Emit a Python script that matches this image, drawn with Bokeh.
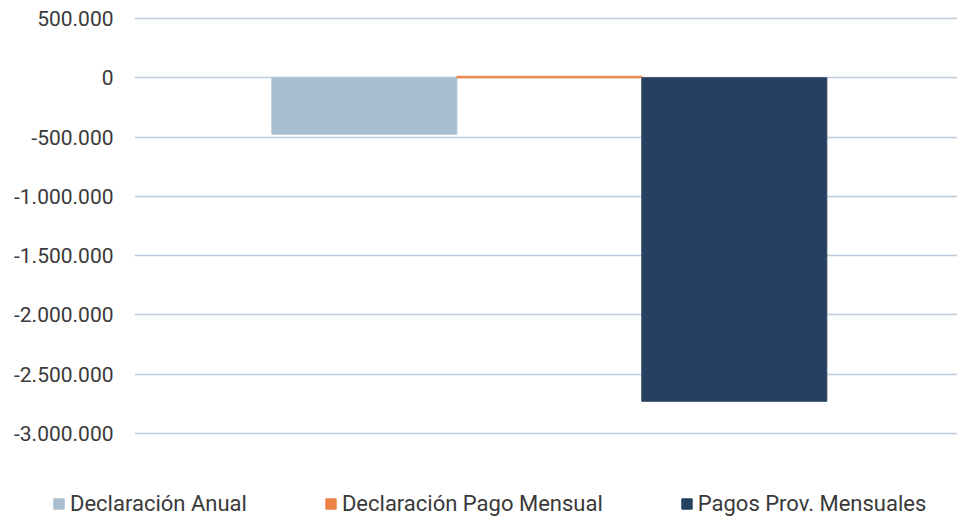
from bokeh.plotting import figure
from bokeh.models import FactorRange, Range1d, ColumnDataSource, Legend, LegendItem, CustomJSTickFormatter, SingleIntervalTicker
from bokeh.transform import dodge
from bokeh.embed import file_html
from bokeh.resources import INLINE

series = ["Declaración Anual", "Declaración Pago Mensual", "Pagos Prov. Mensuales"]
values = [-476000, 12000, -2728000]
colors = ["#A9BFD0", "#EE8246", "#26405F"]

src = ColumnDataSource(dict(x=series, top=values, color=colors))

p = figure(x_range=FactorRange(factors=series, range_padding=0.483, range_padding_units="percent"),
           y_range=Range1d(-3017000, 517000),
           width=957, height=448, output_backend="svg", toolbar_location=None,
           min_border_left=134, min_border_right=0, min_border_top=16, min_border_bottom=13)
p.outline_line_color = None

r = p.vbar(x=dodge("x", 0.018, range=p.x_range), top="top", bottom=0, width=1.0,
           color="color", source=src)

p.xaxis.visible = False
p.xgrid.grid_line_color = None
p.ygrid.grid_line_color = "#BCCCDA"
p.ygrid.grid_line_width = 1.5
p.yaxis.ticker = SingleIntervalTicker(interval=500000)
p.yaxis.formatter = CustomJSTickFormatter(code="""
return tick.toFixed(0).replace(/\\B(?=(\\d{3})+(?!\\d))/g, ".");
""")
p.yaxis.axis_line_color = None
p.yaxis.major_tick_line_color = None
p.yaxis.minor_tick_line_color = None
p.yaxis.major_label_text_font = "Roboto"
p.yaxis.major_label_text_font_size = "21px"
p.yaxis.major_label_text_color = "#3A3A3A"
p.yaxis.major_label_standoff = 15

# legend strip below the chart
q = figure(x_range=p.x_range, y_range=Range1d(1e8, 2e8),
           width=957, height=70, output_backend="svg", toolbar_location=None,
           min_border_left=0, min_border_right=0, min_border_top=0, min_border_bottom=0)
q.outline_line_color = None
q.axis.visible = False
q.grid.visible = False
rq = q.vbar(x="x", top="top", bottom=0, width=1.0, color="color", source=src)

items = [LegendItem(label=s, renderers=[rq], index=i) for i, s in enumerate(series)]
legend = Legend(items=items, orientation="horizontal", location=(52, 2),
                label_text_font="Roboto", label_text_font_size="22px", label_text_color="#3A3A3A",
                glyph_width=13, glyph_height=13, label_standoff=5, spacing=77,
                padding=0, margin=0, border_line_color=None, background_fill_alpha=0)
q.add_layout(legend, "center")

open("out.html", "w").write(file_html([p, q], INLINE))
